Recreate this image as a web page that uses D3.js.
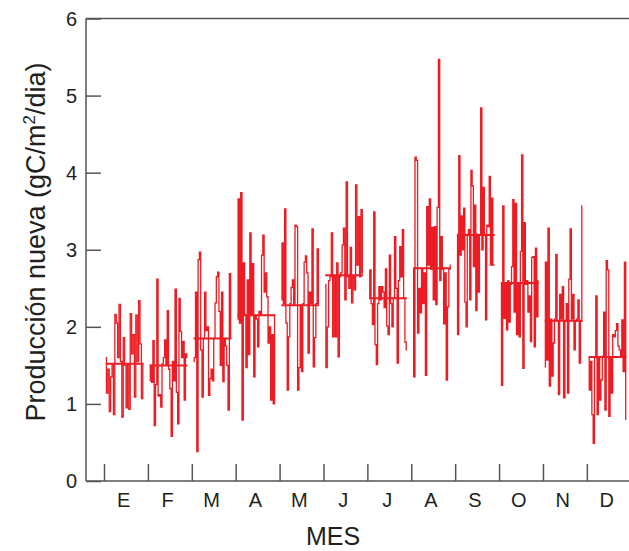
<!DOCTYPE html>
<html>
<head>
<meta charset="utf-8">
<script src="https://cdn.jsdelivr.net/npm/d3@7"></script>
<style>
  html, body { margin: 0; padding: 0; background: #fff; }
  svg { display: block; font-family: "Liberation Sans", Arial, Helvetica, sans-serif; }
</style>
</head>
<body>
<svg id="chart" width="629" height="551"></svg>
<script>
// Month labels (Spanish initials)
const months = ["E", "F", "M", "A", "M", "J", "J", "A", "S", "O", "N", "D"];

// Y tick values
const yTicks = [0, 1, 2, 3, 4, 5, 6];

// Monthly mean of new production (gC/m2/dia)
const monthlyMean = [1.52, 1.5, 1.85, 2.15, 2.28, 2.67, 2.37, 2.76, 3.19, 2.57, 2.08, 1.61];

// Daily new production, one array per month
const dailyE = [1.6, 1.14, 1.45, 0.9, 1.35, 1.52, 0.86, 2.16, 2.05, 1.6, 2.29, 1.55, 0.83, 1.86, 1.5, 0.95, 1.52, 0.93, 2.17, 1.65, 1.9, 1.09, 2.15, 1.55, 2.34, 1.78, 1.07, 1.52];
const dailyF = [1.3, 1.5, 1.28, 1.82, 0.72, 1.25, 2.62, 1.1, 1.12, 0.96, 1.52, 1.6, 1.83, 1.5, 2.21, 1.45, 1.2, 0.58, 1.55, 1.3, 2.49, 1.15, 0.74, 2.37, 1.94, 1.6, 1.81, 1.05, 1.65, 1.6];
const dailyM = [1.55, 1.6, 2.45, 0.38, 2.87, 2.97, 1.7, 1.09, 1.85, 2.45, 1.95, 2.0, 1.11, 1.33, 1.45, 1.3, 1.85, 2.31, 2.65, 2.71, 2.2, 1.5, 2.45, 1.29, 1.85, 1.75, 1.5, 0.92, 2.69, 1.85];
const dailyA = [2.1, 3.66, 2.05, 3.74, 0.79, 2.83, 2.15, 1.47, 2.61, 1.64, 3.22, 2.15, 2.82, 1.35, 2.15, 2.1, 1.74, 2.2, 2.15, 2.93, 3.19, 2.45, 2.7, 2.39, 1.79, 2.0, 1.05, 1.9, 1.0, 2.15];
const dailyMy = [2.35, 3.09, 2.3, 3.53, 2.05, 1.18, 1.87, 2.3, 2.51, 2.61, 2.28, 3.32, 3.3, 1.18, 1.47, 2.28, 1.42, 2.3, 2.84, 2.92, 2.7, 1.66, 2.45, 2.3, 3.27, 1.48, 1.86, 2.3, 3.01, 2.3];
const dailyJn = [2.55, 1.47, 2.0, 2.6, 2.65, 3.22, 1.87, 2.65, 1.87, 2.83, 1.61, 2.65, 2.7, 3.06, 3.28, 2.35, 3.88, 2.65, 2.5, 3.03, 2.31, 2.65, 2.48, 3.84, 2.8, 3.43, 2.65, 3.52, 2.7];
const dailyJl = [2.37, 2.74, 2.3, 2.03, 3.49, 1.77, 1.51, 2.3, 2.52, 2.35, 2.52, 2.45, 2.25, 2.75, 2.01, 1.9, 2.93, 2.3, 2.0, 2.37, 3.17, 2.5, 1.53, 2.6, 3.04, 2.65, 3.26, 2.37, 1.8, 1.7];
const dailyAg = [2.75, 1.35, 4.2, 4.16, 1.92, 2.5, 2.18, 2.75, 2.3, 2.7, 1.37, 3.56, 2.8, 3.66, 2.75, 3.29, 2.35, 3.3, 2.29, 3.55, 5.47, 2.6, 3.17, 2.75, 2.04, 2.7, 1.31, 2.26, 2.75, 2.8];
const dailyS = [3.2, 1.9, 4.22, 2.93, 3.44, 3.0, 3.54, 2.32, 2.0, 3.2, 3.26, 2.35, 4.03, 3.83, 2.78, 3.58, 2.21, 3.2, 2.45, 3.2, 4.84, 3.0, 3.81, 3.2, 2.09, 3.32, 3.3, 3.95, 2.8, 3.67, 2.8, 2.8];
const dailyO = [2.55, 1.24, 3.57, 2.11, 2.55, 1.96, 2.6, 2.06, 2.55, 2.78, 3.65, 2.19, 3.6, 1.9, 2.55, 1.87, 2.98, 4.23, 1.46, 3.35, 2.55, 2.6, 2.19, 2.4, 1.81, 2.9, 2.91, 1.74, 3.02, 2.13, 2.6];
const dailyN = [1.48, 2.84, 1.57, 3.28, 1.23, 2.1, 1.36, 1.79, 2.1, 2.94, 2.07, 1.12, 2.42, 2.1, 2.52, 1.08, 2.07, 2.3, 1.14, 2.62, 3.27, 2.1, 2.42, 1.7, 2.07, 2.1, 2.35, 1.53, 2.07, 3.57];
const dailyD = [1.6, 1.18, 1.55, 0.86, 0.49, 1.6, 2.4, 0.86, 1.6, 1.05, 1.31, 1.62, 2.19, 0.92, 2.86, 2.74, 0.84, 1.6, 1.14, 1.9, 1.87, 1.95, 2.04, 1.75, 1.7, 1.62, 2.09, 1.42, 2.84, 0.8];

const daily = [dailyE, dailyF, dailyM, dailyA, dailyMy, dailyJn, dailyJl, dailyAg, dailyS, dailyO, dailyN, dailyD];

const RED = "#ed1c24";
const AXIS = "#555";

const svg = d3.select("#chart");

// x in month units: month i occupies [i, i+1]
const x = d3.scaleLinear().domain([-0.41, 11.96]).range([86, 629]);
const y = d3.scaleLinear().domain([0, 6]).range([481, 18.5]);

// Each month's daily record spans the first part of its month slot
const spanStart = 0.04, spanEnd = 0.9;
const dayX = (m, j, n) => m + spanStart + (spanEnd - spanStart) * j / (n - 1);

const line = d3.line()
  .x(d => x(d.x))
  .y(d => y(d.v))
  .curve(d3.curveStep);

const plot = svg.append("g");

daily.forEach((vals, m) => {
  const pts = vals.map((v, j) => ({ x: dayX(m, j, vals.length), v }));
  plot.append("path")
    .datum(pts)
    .attr("fill", "none")
    .attr("stroke", RED)
    .attr("stroke-width", 1.3)
    .attr("stroke-linejoin", "miter")
    .attr("d", line);
  // monthly mean
  plot.append("line")
    .attr("x1", x(m + spanStart)).attr("x2", x(m + spanEnd))
    .attr("y1", y(monthlyMean[m])).attr("y2", y(monthlyMean[m]))
    .attr("stroke", RED).attr("stroke-width", 2);
});

// Frame: left, bottom and top lines
const frame = svg.append("g").attr("stroke", AXIS).attr("stroke-width", 1.5).attr("fill", "none");
frame.append("line").attr("x1", x.range()[0]).attr("x2", x.range()[0]).attr("y1", y(6)).attr("y2", y(0));
frame.append("line").attr("x1", x.range()[0]).attr("x2", x.range()[1]).attr("y1", y(0)).attr("y2", y(0));
frame.append("line").attr("x1", x.range()[0]).attr("x2", x.range()[1]).attr("y1", y(6)).attr("y2", y(6));

// Y axis: inward ticks
const yAxis = d3.axisRight(y).tickValues(yTicks).tickSize(15).tickFormat("");
const gy = svg.append("g").attr("transform", `translate(${x.range()[0]},0)`).call(yAxis);
gy.select(".domain").remove();
gy.selectAll(".tick line").attr("stroke", AXIS).attr("stroke-width", 1.5);

svg.append("g").selectAll("text").data(yTicks).join("text")
  .attr("x", 77).attr("y", d => y(d)).attr("dy", "0.35em")
  .attr("text-anchor", "end")
  .attr("font-size", 20).attr("fill", "#231f20")
  .text(d => d);

// X axis: upward ticks at month boundaries
const xAxis = d3.axisTop(x).tickValues(d3.range(12)).tickSize(17).tickFormat("");
const gx = svg.append("g").attr("transform", `translate(0,${y(0)})`).call(xAxis);
gx.select(".domain").remove();
gx.selectAll(".tick line").attr("stroke", AXIS).attr("stroke-width", 1.5);

svg.append("g").selectAll("text").data(months).join("text")
  .attr("x", (d, i) => x(i + 0.45)).attr("y", 507)
  .attr("text-anchor", "middle")
  .attr("font-size", 20).attr("fill", "#231f20")
  .text(d => d);

// Axis titles
svg.append("text")
  .attr("x", 333).attr("y", 545)
  .attr("text-anchor", "middle")
  .attr("font-size", 25).attr("fill", "#231f20")
  .text("MES");

const yt = svg.append("text")
  .attr("transform", "translate(45,242) rotate(-90)")
  .attr("text-anchor", "middle")
  .attr("font-size", 27).attr("fill", "#231f20");
yt.append("tspan").text("Producción nueva (gC/m");
yt.append("tspan").attr("font-size", 17).attr("dy", -10).text("2");
yt.append("tspan").attr("dy", 10).text("/dia)");
</script>
</body>
</html>
